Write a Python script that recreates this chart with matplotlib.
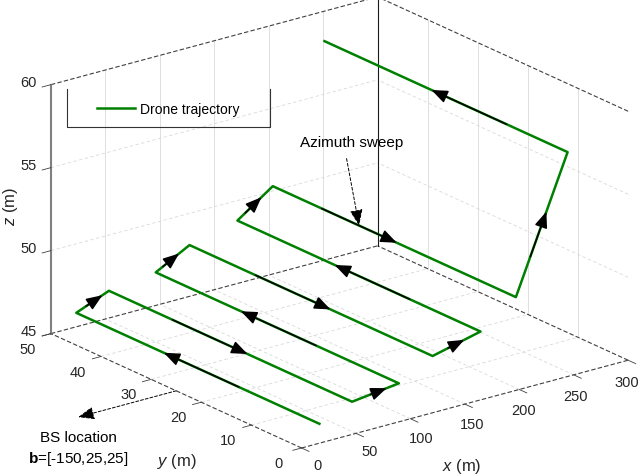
import numpy as np
import matplotlib
matplotlib.use('Agg')
import matplotlib.pyplot as plt
from matplotlib.lines import Line2D
from matplotlib.patches import FancyArrowPatch
from mpl_toolkits.mplot3d import proj3d

plt.rcParams['font.family'] = ['Liberation Sans', 'DejaVu Sans']
plt.rcParams['mathtext.fontset'] = 'custom'
plt.rcParams['mathtext.rm'] = 'Liberation Sans'
plt.rcParams['mathtext.it'] = 'Liberation Sans:italic'
plt.rcParams['mathtext.bf'] = 'Liberation Sans:bold'

# drone legs: each leg flies along y at a fixed x and height
leg_x = [21, 51, 94, 125, 169, 201.5, 249]
leg_z = [45.95, 46.75, 47.1, 48.2, 48.9, 50.4, 58.3]
leg_y = [1, 49.5]
# base station location
bs = [-150, 25, 25]

x_ticks = [0, 50, 100, 150, 200, 250, 300]
y_ticks = [0, 10, 20, 30, 40, 50]
z_ticks = [45, 50, 55, 60]

# where the direction arrows sit on each segment (fraction of segment)
arrow_tip = [0.64, 0.8, 0.57, 0.74, 0.65, 0.69, 0.58, 0.66, 0.6, 0.68, 0.51, 0.59, 0.56]
sweep_seg, sweep_frac = 10, 0.355

# build the path
px, py, pz = [], [], []
for i, (x, z) in enumerate(zip(leg_x, leg_z)):
    ys = leg_y if i % 2 == 0 else leg_y[::-1]
    for y in ys:
        px.append(x)
        py.append(y)
        pz.append(z)

fig = plt.figure(figsize=(6.4, 4.77), dpi=100)
ax = fig.add_axes([0.017, -0.1574, 1.0, 1.3417], projection='3d', proj_type='ortho')
ax.view_init(elev=20.5, azim=-127.5)
ax.set_box_aspect((1, 1, 0.6456), zoom=0.9708)
ax.set_xlim(0, 300)
ax.set_ylim(0, 50)
ax.set_zlim(45, 60)
ax.set_axis_off()
ax.computed_zorder = False

x0, x1 = x_ticks[0], x_ticks[-1]
y0, y1 = y_ticks[0], y_ticks[-1]
z0, z1 = z_ticks[0], z_ticks[-1]

M = ax.get_proj()


def to2d(p):
    X, Y, _ = proj3d.proj_transform(p[0], p[1], p[2], M)
    return (float(X), float(Y))


# grid on floor and the two back walls
gc = '#d9d9d9'
gdash = (0, (4, 3))
for x in x_ticks[1:-1]:
    ax.plot([x, x], [y0, y1], [z0, z0], color=gc, lw=0.6, ls=gdash, zorder=1)
    ax.plot([x, x], [y1, y1], [z0, z1], color=gc, lw=0.6, zorder=1)
for y in y_ticks[1:-1]:
    ax.plot([x0, x1], [y, y], [z0, z0], color=gc, lw=0.6, ls=gdash, zorder=1)
    ax.plot([x1, x1], [y, y], [z0, z1], color=gc, lw=0.6, zorder=1)
for z in z_ticks[1:-1]:
    ax.plot([x0, x1], [y1, y1], [z, z], color=gc, lw=0.6, ls=gdash, zorder=1)
    ax.plot([x1, x1], [y0, y1], [z, z], color=gc, lw=0.6, ls=gdash, zorder=1)

# box edges
ec = '#404040'
edash = (0, (4, 2))
ax.plot([x0, x1], [y0, y0], [z0, z0], color=ec, lw=0.8, ls=edash, zorder=2)
ax.plot([x0, x0], [y0, y1], [z0, z0], color=ec, lw=0.8, ls=edash, zorder=2)
ax.plot([x0, x1], [y1, y1], [z0, z0], color=ec, lw=0.8, ls=edash, zorder=2)
ax.plot([x1, x1], [y0, y1], [z0, z0], color=ec, lw=0.8, ls=edash, zorder=2)
ax.plot([x0, x1], [y1, y1], [z1, z1], color=ec, lw=0.8, ls=edash, zorder=2)
ax.plot([x1, x1], [y0, y1], [z1, z1], color=ec, lw=0.8, ls=edash, zorder=2)
ax.plot([x1, x1], [y1, y1], [z0, z1], color='#1a1a1a', lw=0.8, zorder=2)
ax.plot([x0, x0], [y1, y1], [z0, z1], color='#808080', lw=1.5, zorder=2)

# ticks and tick labels (labels placed at projected 3D points)
tc = '#262626'
fs = 10.5


def label(p, s, **kw):
    X, Y = to2d(p)
    ax.text2D(X, Y, s, transform=ax.transData, fontsize=fs, color=tc, **kw)


for x in x_ticks:
    ax.plot([x, x], [y0, y0 - 1.5], [z0, z0], color=ec, lw=0.6, zorder=2)
    # the labels sit on a slightly shorter row than the axis, as in the original
    label((15 + 0.945 * x, y0, z0 - 1.3), str(x), ha='center', va='center')
for y in y_ticks:
    ax.plot([x0, x0 - 8], [y, y], [z0, z0], color=ec, lw=0.6, zorder=2)
    label((x0 - 21, y, z0 - 0.54), str(y), ha='center', va='center')
for z in z_ticks:
    ax.plot([x0, x0 - 8], [y1, y1], [z, z], color=ec, lw=0.6, zorder=2)
    label((x0 - 13, y1, z + 0.4), str(z), ha='right', va='center')

# trajectory
traj, = ax.plot(px, py, pz, color='#008000', lw=1.8, zorder=3)

head = '-|>,head_length=0.7,head_width=0.28'


def arrow(tail, tip, lw, ls='-'):
    fig.add_artist(FancyArrowPatch(to2d(tail), to2d(tip), transform=ax.transData,
                                   arrowstyle=head, mutation_scale=14, color='k',
                                   lw=lw, ls=ls, shrinkA=0, shrinkB=0, zorder=4))


verts = np.array([px, py, pz], dtype=float).T
for k, f in enumerate(arrow_tip):
    d = verts[k + 1] - verts[k]
    tip = verts[k] + f * d
    arrow(tip - 15 * d / np.linalg.norm(d), tip, 1.1)

# arrow toward the base station
arrow((x0, bs[1], z0), (0.6 * bs[0], bs[1], z0), 0.7, (0, (3, 2)))
fig.text(78 / 640, 1 - 438 / 477, 'BS location', ha='center', va='center', fontsize=11)
fig.text(78 / 640, 1 - 459 / 477, r'$\mathbf{b}$=[%d,%d,%d]' % tuple(bs),
         ha='center', va='center', fontsize=11)

# "Azimuth sweep" annotation
d = verts[sweep_seg + 1] - verts[sweep_seg]
pt = verts[sweep_seg] + sweep_frac * d
ax.annotate('Azimuth sweep', xy=to2d(pt), xytext=(352 / 640, 1 - 143 / 477),
            textcoords='figure fraction', ha='center', va='center', fontsize=11,
            color='k',
            arrowprops=dict(arrowstyle=head, color='k', lw=0.7, ls=(0, (3, 2)),
                            shrinkA=5, shrinkB=0, relpos=(0.43, 0.0), mutation_scale=14),
            zorder=5)

# axis labels
fig.text(462 / 640, 1 - 467 / 477, r'$\mathit{x}$ (m)', ha='center', va='center', fontsize=12, color=tc)
fig.text(177 / 640, 1 - 462 / 477, r'$\mathit{y}$ (m)', ha='center', va='center', fontsize=12, color=tc)
fig.text(10 / 640, 1 - 207 / 477, r'$\mathit{z}$ (m)', ha='center', va='center', fontsize=12,
         color=tc, rotation=90)

# legend with an open-topped frame
ax.legend([traj], ['Drone trajectory'], loc='center left',
          bbox_to_anchor=(97 / 640, 1 - 110 / 477), bbox_transform=fig.transFigure,
          frameon=False, borderpad=0, borderaxespad=0, handlelength=2.73,
          handletextpad=0.36, fontsize=10)
fig.add_artist(Line2D([67 / 640, 67 / 640, 270 / 640, 270 / 640],
                      [1 - 90 / 477, 1 - 128 / 477, 1 - 128 / 477, 1 - 90 / 477],
                      transform=fig.transFigure, color='#333333', lw=0.8))

fig.savefig('out.png', dpi=100)
